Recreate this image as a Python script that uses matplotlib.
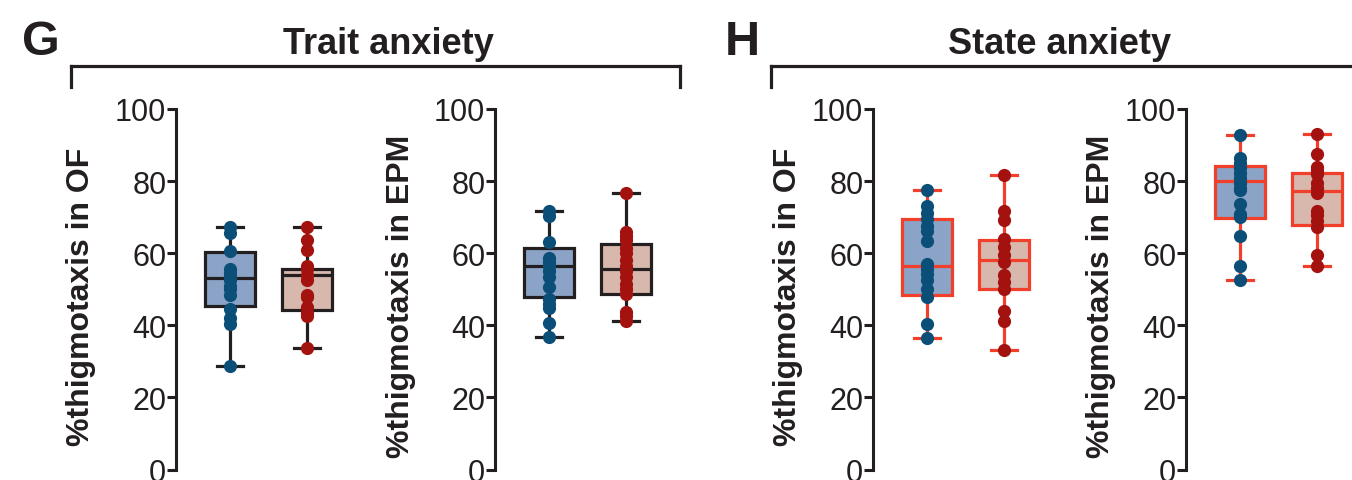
import matplotlib
matplotlib.use("Agg")
from matplotlib import pyplot as plt
from matplotlib.lines import Line2D

plt.rcParams['font.family'] = ['Liberation Sans', 'DejaVu Sans']

# ---------------- data ----------------
panel_labels = ["%thigmotaxis in OF", "%thigmotaxis in EPM",
                "%thigmotaxis in OF", "%thigmotaxis in EPM"]

# individual animals: [low-group (blue), high-group (red)] per panel
trait_of_blue = [67.2, 65.5, 60.5, 55.5, 54.5, 53.5, 52.5, 51.0, 50.0, 48.5, 44.5, 42.0, 40.5, 28.8]
trait_of_red = [67.2, 63.7, 60.9, 56.5, 55.5, 54.0, 52.5, 48.5, 47.8, 45.0, 43.5, 42.5, 33.8]
trait_epm_blue = [71.6, 70.4, 63.0, 58.7, 57.5, 56.5, 55.0, 53.4, 50.5, 47.4, 46.0, 44.7, 40.7, 36.8]
trait_epm_red = [76.7, 66.0, 64.8, 63.7, 61.4, 60.0, 58.1, 56.5, 55.0, 53.3, 51.6, 50.0, 48.8, 43.7, 42.5, 41.2]
state_of_blue = [77.6, 73.0, 71.2, 69.4, 67.5, 66.3, 63.4, 57.1, 55.7, 54.3, 52.5, 50.2, 48.0, 40.5, 36.4]
state_of_red = [81.8, 71.6, 69.2, 64.0, 61.7, 59.4, 57.5, 53.9, 52.0, 50.2, 43.9, 41.2, 33.3]
state_epm_blue = [92.8, 86.5, 85.1, 83.7, 82.3, 81.0, 79.6, 78.2, 77.4, 73.7, 70.8, 70.0, 64.7, 56.6, 52.5]
state_epm_red = [93.0, 87.6, 84.0, 83.0, 82.0, 79.5, 78.1, 76.7, 71.8, 70.5, 69.0, 67.2, 59.4, 56.4]

# box stats per panel: (blue, red)
box_q1 = [(45.4, 44.2), (47.9, 48.6), (48.3, 50.2), (69.8, 67.7)]
box_med = [(53.0, 54.1), (56.4, 55.5), (56.4, 58.0), (80.1, 77.3)]
box_q3 = [(60.3, 55.7), (61.5, 62.5), (69.5, 63.8), (84.3, 82.2)]
box_lo = [(28.8, 33.8), (36.8, 41.2), (36.4, 33.3), (52.5, 56.4)]
box_hi = [(67.2, 67.2), (71.6, 76.7), (77.6, 81.8), (92.8, 93.0)]

points = [(trait_of_blue, trait_of_red), (trait_epm_blue, trait_epm_red),
          (state_of_blue, state_of_red), (state_epm_blue, state_epm_red)]

y_ticks = [0, 20, 40, 60, 80, 100]

# ---------------- styling ----------------
W, H = 1352, 481
fill_blue = "#8ba3c6"
fill_red = "#d8b8ad"
dot_blue = "#0b4f78"
dot_red = "#a3120f"
edge_black = "#231f20"
edge_red = "#f0402c"

axis_x = [176, 495, 873, 1186]       # y-axis position in pixels
label_x = [81, 401, 788, 1101]       # y-label centre in pixels
edge_cols = [edge_black, edge_black, edge_red, edge_red]

px_unit = 77.0
ax_w = 2.4 * px_unit
ax_top, ax_bot = 110, 470.6


def fx(x):
    return x / W


def fy(y):
    return 1 - y / H


fig = plt.figure(figsize=(W / 100, H / 100), dpi=100)

for i in range(4):
    ax = fig.add_axes([fx(axis_x[i]), fy(ax_bot), ax_w / W, (ax_bot - ax_top) / H])
    ec = edge_cols[i]
    stats = []
    for j in range(2):
        stats.append(dict(med=box_med[i][j], q1=box_q1[i][j], q3=box_q3[i][j],
                          whislo=box_lo[i][j], whishi=box_hi[i][j], fliers=[]))
    bp = ax.bxp(stats, positions=[0, 1], widths=0.65, capwidths=0.33,
                showfliers=False, patch_artist=True,
                boxprops=dict(edgecolor=ec, linewidth=2.3),
                medianprops=dict(color=ec, linewidth=2.3),
                whiskerprops=dict(color=ec, linewidth=2.3),
                capprops=dict(color=ec, linewidth=2.3))
    for patch, fc in zip(bp['boxes'], [fill_blue, fill_red]):
        patch.set_facecolor(fc)

    blue, red = points[i]
    ax.plot([0] * len(blue), blue, 'o', color=dot_blue, markersize=9.5,
            markeredgewidth=0, zorder=5)
    ax.plot([1] * len(red), red, 'o', color=dot_red, markersize=9.5,
            markeredgewidth=0, zorder=5)

    ax.set_xlim(-54 / px_unit, 2.4 - 54 / px_unit)
    ax.set_ylim(0, 100)
    ax.set_yticks(y_ticks)
    ax.set_yticklabels([str(t) for t in y_ticks])
    ax.set_xticks([])
    for s in ['top', 'right', 'bottom']:
        ax.spines[s].set_visible(False)
    ax.spines['left'].set_linewidth(2.2)
    ax.spines['left'].set_color(edge_black)
    ax.spines['left'].set_bounds(0, 100)
    ax.tick_params(axis='y', length=6.5, width=2.2, color=edge_black,
                   labelsize=22, pad=0.5, labelcolor="#231f20")
    ax.patch.set_visible(False)

    fig.text(fx(label_x[i]), fy(296.5), panel_labels[i], rotation=90,
             ha='center', va='center', fontsize=23, fontweight='bold',
             color="#231f20")

# panel letters and group titles
fig.text(fx(22), fy(55), "G", fontsize=35, fontweight='bold', ha='left',
         va='baseline', color="#231f20")
fig.text(fx(725), fy(55), "H", fontsize=35, fontweight='bold', ha='left',
         va='baseline', color="#231f20")
fig.text(fx(388), fy(54), "Trait anxiety", fontsize=26, fontweight='bold',
         ha='center', va='baseline', color="#231f20")
fig.text(fx(1060), fy(54), "State anxiety", fontsize=26, fontweight='bold',
         ha='center', va='baseline', color="#231f20")

# brackets
for x0, x1, right_end in [(71, 680, True), (771, 1360, False)]:
    fig.add_artist(Line2D([fx(x0), fx(x1)], [fy(67), fy(67)], color=edge_black,
                          linewidth=2.3, solid_capstyle='projecting'))
    fig.add_artist(Line2D([fx(x0), fx(x0)], [fy(67), fy(88)], color=edge_black,
                          linewidth=2.3, solid_capstyle='projecting'))
    if right_end:
        fig.add_artist(Line2D([fx(x1), fx(x1)], [fy(67), fy(88)], color=edge_black,
                              linewidth=2.3, solid_capstyle='projecting'))

fig.savefig("out.png", dpi=100)
